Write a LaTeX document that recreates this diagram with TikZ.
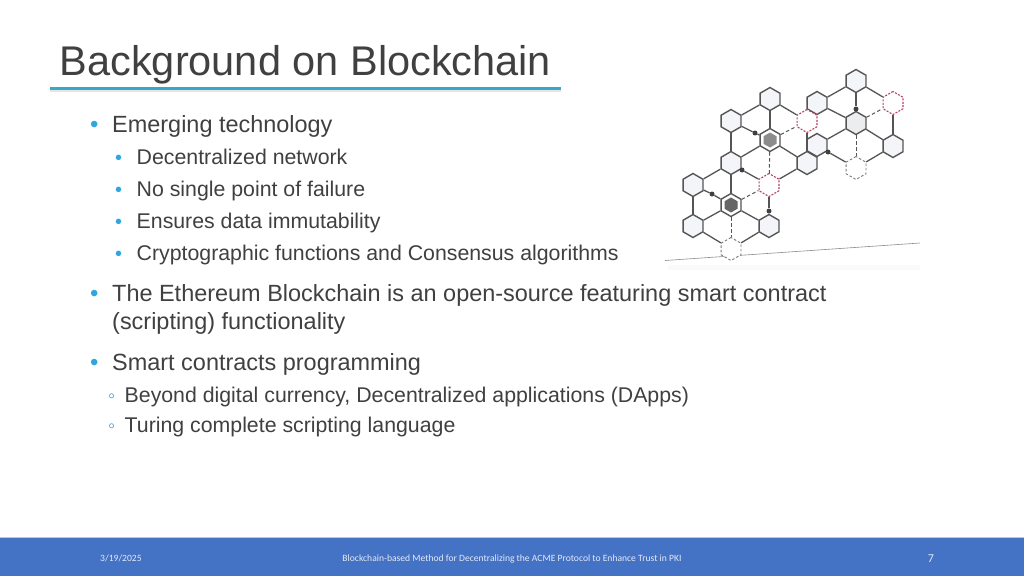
\documentclass[tikz,border=0pt]{standalone}
\usepackage{fontspec}
\setmainfont{Liberation Sans}
\newfontfamily\footfont{Carlito}
\usetikzlibrary{shapes.geometric,backgrounds}
\definecolor{txt}{HTML}{404040}
\definecolor{bul}{HTML}{2FA6DE}
\definecolor{rule}{HTML}{35A8CC}
\definecolor{foot}{HTML}{4472C4}
\definecolor{hexline}{HTML}{555555}
\definecolor{hexfill}{HTML}{F3F5F9}
\definecolor{redhex}{HTML}{B5435F}
\tikzset{
 x=1pt,y=-1pt,
 hexbase/.style={regular polygon,regular polygon sides=6,shape border rotate=30,minimum size=23pt,inner sep=0pt,line width=1.4pt},
 hexn/.style={hexbase,draw=hexline,fill=hexfill},
 hexgrey/.style={hexbase,draw=hexline,fill=hexfill!70!gray!40},
 hexout/.style={hexbase,draw=hexline,fill=white},
 hexin/.style={regular polygon,regular polygon sides=6,shape border rotate=30,minimum size=15pt,inner sep=0pt,fill=#1},
 hexred/.style={hexbase,draw=redhex,line width=1.1pt,dash pattern=on 2pt off 1.4pt,fill=white},
 hexdash/.style={hexbase,draw=hexline!80,line width=.9pt,dash pattern=on 2.5pt off 2pt,fill=white},
 edge/.style={draw=hexline,line width=1.3pt},
 dedge/.style={draw=hexline,line width=1pt,dash pattern=on 3.5pt off 2.5pt},
 dotn/.style={circle,fill=black!75,inner sep=0pt,minimum size=5pt},
 title/.style={anchor=base west,inner sep=0pt,text=txt,font=\fontsize{41.5}{41.5}\selectfont},
 lone/.style={anchor=base west,inner sep=0pt,text=txt,font=\fontsize{23.45}{24}\selectfont},
 ltwo/.style={anchor=base west,inner sep=0pt,text=txt,font=\fontsize{21.3}{24}\selectfont},
 bone/.style={anchor=base west,inner sep=0pt,text=bul,font=\fontsize{24}{24}\selectfont},
 btwo/.style={anchor=base west,inner sep=0pt,text=bul,font=\fontsize{20}{24}\selectfont},
 ftxt/.style={inner sep=0pt,text=white!85!foot,font=\footfont\fontsize{9.6}{12}\selectfont},
}
\begin{document}
\begin{tikzpicture}
\useasboundingbox (0,0) rectangle (1024,576);
\begin{scope}[on background layer]
\fill[white] (0,0) rectangle (1024,576);
\end{scope}
% footer
\fill[foot] (0,538) rectangle (1024,576);
\draw[foot!40!white,line width=.6pt] (0,537.7) -- (1024,537.7);
\node[ftxt,anchor=base west] (fdate) at (100,561.5) {3/19/2025};
\node[ftxt,anchor=base] (fmid) at (512,561.5) {Blockchain-based Method for Decentralizing the ACME Protocol to Enhance Trust in PKI};
\node[ftxt,anchor=base,font=\footfont\fontsize{12}{12}\selectfont] (fnum) at (931,562) {7};
% title
\node[title] (ttl) at (59.5,75) {Background on Blockchain};
\fill[black!10] (50,89.5) rectangle (561,92);
\fill[rule] (50,86.5) rectangle (561,90);
% body
\node[bone] (b1) at (90,132) {•};
\node[lone] (t1) at (112,132) {Emerging technology};
\node[btwo] (b2) at (115,164) {•};
\node[ltwo] (t2) at (136.5,164) {Decentralized network};
\node[btwo] (b3) at (115,196) {•};
\node[ltwo] (t3) at (136.5,196) {No single point of failure};
\node[btwo] (b4) at (115,228) {•};
\node[ltwo] (t4) at (136.5,228) {Ensures data immutability};
\node[btwo] (b5) at (115,260) {•};
\node[ltwo] (t5) at (136.5,260) {Cryptographic functions and Consensus algorithms};
\node[bone] (b6) at (90,301) {•};
\node[lone] (t6) at (112,301) {The Ethereum Blockchain is an open-source featuring smart contract};
\node[lone] (t7) at (112,329) {(scripting) functionality};
\node[bone] (b8) at (90,370) {•};
\node[lone] (t8) at (112,370) {Smart contracts programming};
\node[btwo] (b9) at (108,402) {◦};
\node[ltwo] (t9) at (124.5,402) {Beyond digital currency, Decentralized applications (DApps)};
\node[btwo] (b10) at (108,432) {◦};
\node[ltwo] (t10) at (124.5,432) {Turing complete scripting language};
% ground of the picture
\fill[black!2] (668,265) rectangle (920,270);
\coordinate (g1) at (665,260.5);
\coordinate (g2) at (920,243);
\draw[black!45,line width=.6pt] (g1) -- (g2);
% hexagon nodes
\node[hexn] (A) at (770,99) {};
\node[hexn] (B) at (731,121) {};
\node[hexout] (C) at (770,140) {};
\node[hexin=black!45] (Ci) at (770,140) {};
\node[hexn] (D) at (731,163) {};
\node[hexn] (E) at (693,185) {};
\node[hexred] (F) at (769,185) {};
\node[hexout] (G) at (731,205) {};
\node[hexin=black!60] (Gi) at (731,205) {};
\node[hexn] (H) at (693,226) {};
\node[hexn] (I) at (769,226) {};
\node[hexdash] (J) at (731,249) {};
\node[hexn] (N) at (817,103) {};
\node[hexn] (L) at (807,163) {};
\node[hexn] (M) at (817,145) {};
\node[hexred] (K) at (807,121) {};
\node[hexn] (O) at (856,81) {};
\node[hexgrey] (P) at (856,123) {};
\node[hexred] (Q) at (893,103) {};
\node[hexn] (R) at (893,146) {};
\node[hexdash] (S) at (856,168) {};
% dots
\node[dotn] (d1) at (755,133) {};
\node[dotn] (d2) at (742,170) {};
\node[dotn] (d3) at (712,194) {};
\node[dotn] (d4) at (769,211) {};
\node[dotn] (d5) at (856,109) {};
\node[dotn] (d6) at (828,152) {};
\begin{scope}[on background layer]
% solid connectors
\foreach \a/\b in {A/B,A/C,A/K,B/D,C/D,C/L,D/E,D/G,E/H,G/H,G/I,H/J,I/J,F/L,K/L,N/O,N/P,O/Q,O/d5,d5/P,P/M,P/R,Q/R,R/S,B/d1,d1/C,D/d2,d2/F,E/d3,d3/G,F/d4,d4/I,M/d6,d6/S}
  \path[edge] (\a) -- (\b);
% dashed connectors
\foreach \a/\b in {C/K,C/F,G/F,G/J,P/Q,P/S}
  \path[dedge] (\a) -- (\b);
\end{scope}
\end{tikzpicture}
\end{document}
